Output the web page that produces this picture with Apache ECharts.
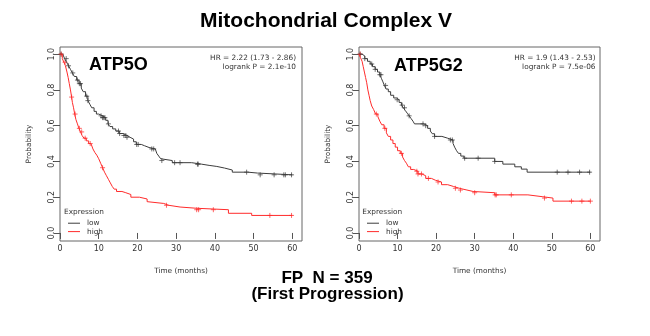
<!DOCTYPE html>
<html>
<head>
<meta charset="utf-8">
<script src="https://cdn.jsdelivr.net/npm/echarts@6/dist/echarts.min.js"></script>
<style>
html, body { margin: 0; padding: 0; background: #fff; }
#main { width: 650px; height: 336px; }
</style>
</head>
<body>
<div id="main"></div>
<script>
// Kaplan-Meier curves, [time in months, survival probability] at each drop
var atp5oLow = [[0,1],[0.7,0.99],[1.2,0.975],[1.7,0.955],[2.2,0.935],[2.7,0.915],[3.2,0.895],[3.7,0.875],[4.3,0.855],[4.9,0.835],[5.5,0.81],[6.0,0.79],[6.6,0.765],[7.2,0.74],[7.7,0.72],[8.2,0.7],[8.8,0.68],[9.4,0.665],[10.0,0.655],[11.0,0.645],[11.8,0.63],[12.4,0.61],[12.9,0.595],[13.6,0.582],[14.4,0.57],[15.3,0.556],[16.3,0.545],[17.3,0.535],[18.1,0.525],[19.0,0.51],[19.7,0.495],[21.0,0.488],[21.8,0.478],[23.0,0.47],[24.6,0.46],[25.0,0.445],[25.5,0.43],[26.0,0.415],[26.3,0.405],[29.0,0.393],[34.0,0.385],[36.5,0.378],[38.5,0.372],[40.5,0.363],[42.5,0.352],[44.5,0.34],[48.5,0.335],[51.0,0.325],[60,0.325]];
var atp5oHigh = [[0,1],[0.6,0.975],[1.0,0.955],[1.4,0.935],[1.8,0.9],[2.1,0.87],[2.4,0.835],[2.7,0.8],[3.0,0.76],[3.2,0.73],[3.5,0.7],[3.8,0.665],[4.1,0.635],[4.5,0.61],[4.9,0.585],[5.3,0.565],[5.7,0.545],[6.2,0.53],[6.8,0.515],[7.4,0.5],[8.0,0.49],[8.5,0.47],[9.0,0.45],[9.5,0.435],[10.0,0.415],[10.5,0.39],[11.0,0.365],[11.5,0.34],[12.0,0.32],[12.5,0.3],[13.0,0.28],[13.5,0.26],[14.0,0.245],[14.6,0.232],[16.0,0.225],[17.0,0.215],[18.3,0.2],[20.5,0.19],[22.5,0.175],[23.0,0.165],[26.8,0.155],[28.0,0.145],[31.0,0.138],[35.3,0.13],[43.5,0.11],[49.5,0.098],[60,0.098]];
var atp5g2Low = [[0,1],[0.8,0.99],[1.5,0.975],[2.2,0.96],[2.9,0.945],[3.5,0.93],[4.2,0.915],[4.8,0.9],[5.4,0.885],[5.8,0.865],[6.2,0.845],[6.6,0.825],[7.0,0.805],[7.6,0.79],[8.2,0.77],[9.0,0.755],[9.7,0.745],[10.4,0.73],[11.0,0.715],[11.5,0.7],[12.0,0.685],[12.5,0.67],[13.0,0.655],[13.5,0.64],[14.0,0.625],[14.4,0.61],[16.8,0.6],[17.8,0.585],[18.5,0.57],[19.0,0.555],[19.6,0.54],[21.5,0.53],[23.0,0.52],[24.4,0.5],[24.8,0.48],[25.3,0.46],[25.8,0.445],[26.4,0.43],[27.2,0.418],[35.2,0.4],[37.3,0.385],[40.4,0.37],[42.1,0.357],[43.6,0.34],[60,0.34]];
var atp5g2High = [[0,1],[0.4,0.98],[0.8,0.96],[1.1,0.93],[1.4,0.9],[1.7,0.87],[2.0,0.84],[2.3,0.8],[2.6,0.77],[2.9,0.74],[3.3,0.71],[3.8,0.69],[4.3,0.665],[4.9,0.65],[5.4,0.625],[5.9,0.605],[6.5,0.585],[7.1,0.56],[7.6,0.54],[8.2,0.52],[8.8,0.5],[9.4,0.48],[10.0,0.46],[10.7,0.445],[11.3,0.425],[11.8,0.405],[12.3,0.39],[12.8,0.37],[13.4,0.355],[14.2,0.345],[15.3,0.33],[16.3,0.32],[17.3,0.305],[18.8,0.295],[19.8,0.285],[21.4,0.27],[23.0,0.26],[24.5,0.25],[26.0,0.24],[28.0,0.232],[29.6,0.225],[35.2,0.213],[43.8,0.203],[47.5,0.195],[50.3,0.178],[60,0.178]];

// censoring times (+ marks)
var atp5oLowCens = [0.3,1.6,2.2,3.3,4.5,5.0,5.3,6.9,7.2,10.6,11.0,11.3,11.6,12.5,15.1,15.4,16.5,17.0,17.3,19.8,20.2,23.7,24.2,26.3,29.6,31.0,35.5,35.7,48.2,51.7,55.3,57.8,58.2,59.8];
var atp5oHighCens = [0.3,1.3,3.0,3.9,5.0,5.6,6.5,7.8,11.0,27.5,35.3,35.8,39.6,54.2,59.8];
var atp5g2LowCens = [0.3,1.5,3.3,4.2,5.4,5.7,6.9,9.9,11.2,11.8,13.0,16.6,17.3,19.6,23.7,24.2,27.4,30.9,35.2,51.4,54.2,57.2,59.8];
var atp5g2HighCens = [0.3,4.5,6.7,11.0,15.0,15.3,16.2,18.0,20.5,25.0,26.3,30.0,35.3,35.6,39.5,48.1,55.1,57.8,60];

var xTicks = [0,10,20,30,40,50,60];
var yTicks = [0,0.2,0.4,0.6,0.8,1.0];

var lowColor = '#3c3c3c';
var highColor = '#ff2b2b';
var smallFont = 'DejaVu Sans';
var boldFont = 'Liberation Sans, Arial';

function stepAt(curve, t) {
	var s = curve[0][1];
	for (var i = 0; i < curve.length; i++) {
		if (curve[i][0] <= t) s = curve[i][1];
		else break;
	}
	return s;
}
function censorPoints(curve, times) {
	return times.map(function (t) { return [t, stepAt(curve, t)]; });
}

var myChart = echarts.init(document.getElementById('main'));

function xAxisFor(i) {
	return {
		type: 'value', gridIndex: i, min: 0, max: 62.5,
		axisLine: { show: false },
		splitLine: { show: false },
		axisTick: { show: true, length: 6, customValues: xTicks, lineStyle: { color: '#555', width: 1 } },
		axisLabel: { customValues: xTicks, fontSize: 8, fontFamily: smallFont, color: '#333', margin: 4 },
		name: 'Time (months)', nameLocation: 'middle', nameGap: 27,
		nameTextStyle: { fontSize: 7.35, fontFamily: smallFont, color: '#333' }
	};
}
function yAxisFor(i) {
	return {
		type: 'value', gridIndex: i, min: -0.045, max: 1.04,
		axisLine: { show: false },
		splitLine: { show: false },
		axisTick: { show: true, length: 6, customValues: yTicks, lineStyle: { color: '#555', width: 1 } },
		axisLabel: {
			customValues: yTicks, rotate: 90, fontSize: 8, fontFamily: smallFont, color: '#333', margin: 4,
			formatter: function (v) { return v.toFixed(1); }
		},
		name: 'Probability', nameLocation: 'middle', nameGap: 27,
		nameTextStyle: { fontSize: 7.35, fontFamily: smallFont, color: '#333' }
	};
}
function kmLine(name, data, color, i) {
	return {
		name: name, type: 'line', step: 'end', data: data,
		xAxisIndex: i, yAxisIndex: i,
		symbol: 'none', lineStyle: { color: color, width: 1 },
		itemStyle: { color: color }, silent: true
	};
}
function censors(data, color, i) {
	return {
		type: 'scatter', data: data, xAxisIndex: i, yAxisIndex: i,
		symbol: 'path://M0,5L10,5M5,0L5,10', symbolSize: 5,
		itemStyle: { color: 'rgba(0,0,0,0)', borderColor: color, borderWidth: 0.9 },
		silent: true
	};
}
function legendFor(left) {
	return {
		data: ['low', 'high'], orient: 'vertical', left: left, top: 219,
		padding: 0, itemGap: 0, itemWidth: 12, itemHeight: 1, icon: 'rect',
		textStyle: { fontSize: 7.35, fontFamily: smallFont, color: '#333', lineHeight: 8.4, padding: [0, 0, 0, 2] },
		selectedMode: false
	};
}
function txt(text, x, y, font, align, color) {
	return { type: 'text', style: { text: text, x: x, y: y, font: font, textAlign: align, textVerticalAlign: 'middle', fill: color || '#000' } };
}

myChart.setOption({
	animation: false,
	grid: [
		{ left: 60, top: 47, width: 242, height: 194, show: true, borderColor: '#666', borderWidth: 1, backgroundColor: 'transparent' },
		{ left: 359, top: 47, width: 241, height: 194, show: true, borderColor: '#666', borderWidth: 1, backgroundColor: 'transparent' }
	],
	xAxis: [xAxisFor(0), xAxisFor(1)],
	yAxis: [yAxisFor(0), yAxisFor(1)],
	legend: [legendFor(68), legendFor(367)],
	series: [
		kmLine('low', atp5oLow, lowColor, 0),
		kmLine('high', atp5oHigh, highColor, 0),
		censors(censorPoints(atp5oLow, atp5oLowCens), lowColor, 0),
		censors(censorPoints(atp5oHigh, atp5oHighCens), highColor, 0),
		kmLine('low', atp5g2Low, lowColor, 1),
		kmLine('high', atp5g2High, highColor, 1),
		censors(censorPoints(atp5g2Low, atp5g2LowCens), lowColor, 1),
		censors(censorPoints(atp5g2High, atp5g2HighCens), highColor, 1)
	],
	graphic: [
		txt('Mitochondrial Complex V', 326, 21, 'bold 21px ' + boldFont, 'center'),
		txt('ATP5O', 89, 65.5, 'bold 18px ' + boldFont, 'left'),
		txt('ATP5G2', 394, 66, 'bold 18px ' + boldFont, 'left'),
		txt('HR = 2.22 (1.73 - 2.86)', 296, 58.3, '7.35px ' + smallFont, 'right', '#333'),
		txt('logrank P = 2.1e-10', 296, 67.3, '7.35px ' + smallFont, 'right', '#333'),
		txt('HR = 1.9 (1.43 - 2.53)', 595.5, 58.3, '7.35px ' + smallFont, 'right', '#333'),
		txt('logrank P = 7.5e-06', 595.5, 67.3, '7.35px ' + smallFont, 'right', '#333'),
		txt('Expression', 64, 211.7, '7.35px ' + smallFont, 'left', '#333'),
		txt('Expression', 362.3, 211.7, '7.35px ' + smallFont, 'left', '#333'),
		txt('FP  N = 359', 327, 278, 'bold 17px ' + boldFont, 'center'),
		txt('(First Progression)', 327.5, 294.5, 'bold 17px ' + boldFont, 'center')
	]
});
</script>
</body>
</html>
